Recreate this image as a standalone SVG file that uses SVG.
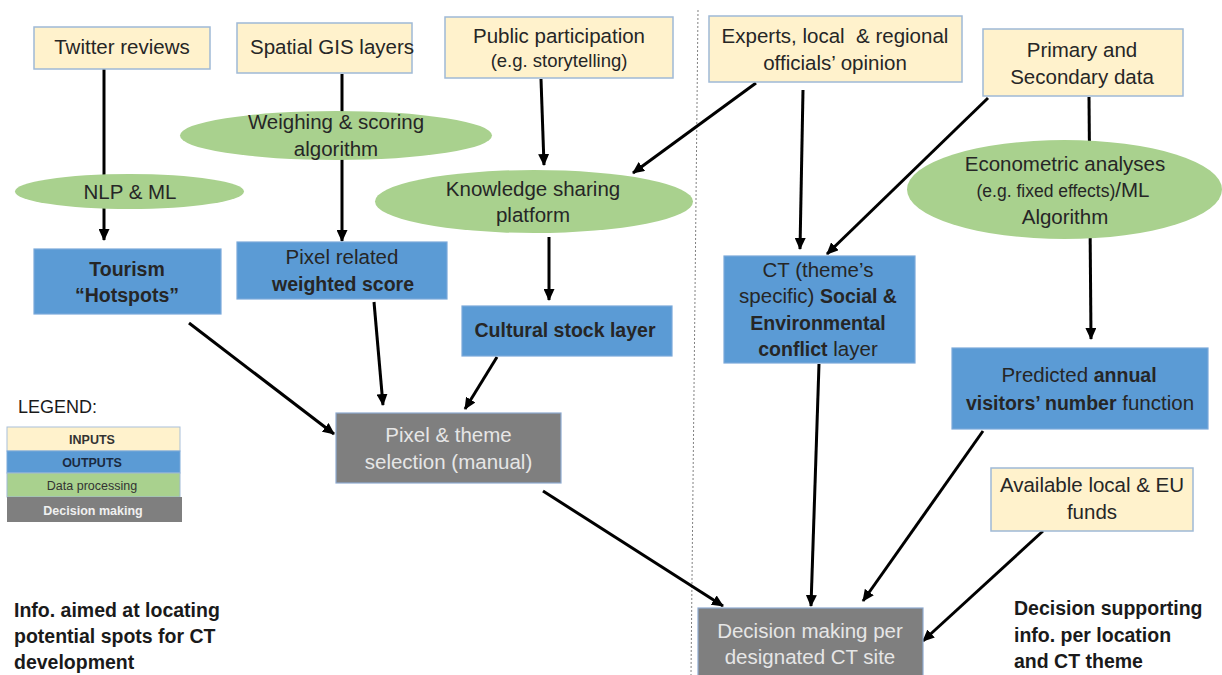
<svg xmlns="http://www.w3.org/2000/svg" width="1222" height="675" viewBox="0 0 1222 675">
<style>
.t{font-family:"Liberation Sans",Arial,sans-serif;font-size:20.5px;fill:#262626;text-anchor:middle;white-space:pre}
.b{font-weight:bold;font-size:19.5px}
.bt{font-weight:bold}
.s{font-size:18.5px}
.w{fill:#e6e6e6}
.in{fill:#fff2cc;stroke:#9fb9d6;stroke-width:1.5}
.out{fill:#5b9bd5;stroke:#7ba9da;stroke-width:1.2}
.dp{fill:#a9d18e}
.dm{fill:#7f7f7f;stroke:#8eaad0;stroke-width:1.2}
.c{stroke:#000;stroke-width:3;fill:none;marker-end:url(#ah)}
.lg{font-family:"Liberation Sans",Arial,sans-serif;font-size:12.5px;text-anchor:middle}
.note{font-family:"Liberation Sans",Arial,sans-serif;font-size:19.5px;font-weight:bold;fill:#1a1a1a}
</style>
<defs>
<marker id="ah" markerUnits="userSpaceOnUse" markerWidth="12" markerHeight="11" viewBox="0 0 12 11" refX="11" refY="5.5" orient="auto">
<path d="M0,0 L12,5.5 L0,11 z" fill="#000"/>
</marker>
</defs>
<rect width="1222" height="675" fill="#fff"/>
<line x1="698" y1="10" x2="691" y2="675" stroke="#808080" stroke-width="1" stroke-dasharray="2 2"/>
<g id="connectors">
<line class="c" x1="104" y1="66" x2="104" y2="240"/>
<line class="c" x1="342" y1="74" x2="342" y2="241"/>
<line class="c" x1="541" y1="79" x2="544" y2="165"/>
<line class="c" x1="756" y1="83" x2="633" y2="173"/>
<line class="c" x1="803" y1="90" x2="800" y2="249"/>
<line class="c" x1="988" y1="98" x2="827" y2="254"/>
<line class="c" x1="1089" y1="97" x2="1091" y2="339"/>
<line class="c" x1="549" y1="237" x2="549" y2="300"/>
<line class="c" x1="189" y1="323" x2="334" y2="434"/>
<line class="c" x1="374" y1="302" x2="383" y2="405"/>
<line class="c" x1="497" y1="357" x2="465" y2="409"/>
<line class="c" x1="543" y1="491" x2="723" y2="606"/>
<line class="c" x1="819" y1="364" x2="811" y2="606"/>
<line class="c" x1="983" y1="431" x2="863" y2="601"/>
<line class="c" x1="1043" y1="531" x2="923" y2="641"/>
</g>
<g id="twitter"><rect class="in" x="34" y="27" width="176" height="42"/><text class="t" x="122" y="54">Twitter reviews</text></g>
<g id="gis"><rect class="in" x="237" y="23" width="175" height="50"/><text class="t" x="332" y="54">Spatial GIS layers</text></g>
<g id="public"><rect class="in" x="445" y="17" width="228" height="61"/><text class="t" x="559" y="43">Public participation</text><text class="t s" x="559" y="67">(e.g. storytelling)</text></g>
<g id="experts"><rect class="in" x="709" y="16" width="253" height="66"/><text class="t" x="835" y="43">Experts, local  &amp; regional</text><text class="t" x="835" y="70">officials’ opinion</text></g>
<g id="primary"><rect class="in" x="983" y="29" width="200" height="67"/><text class="t" x="1082" y="57">Primary and</text><text class="t" x="1082" y="84">Secondary data</text></g>
<g id="weighing"><ellipse class="dp" cx="336" cy="135.5" rx="156" ry="24.5"/><text class="t" x="336" y="129">Weighing &amp; scoring</text><text class="t" x="336" y="156">algorithm</text></g>
<g id="nlp"><ellipse class="dp" cx="129.5" cy="191.5" rx="114.5" ry="17.5"/><text class="t" x="130" y="199">NLP &amp; ML</text></g>
<g id="knowledge"><ellipse class="dp" cx="534" cy="201.5" rx="159" ry="31.5"/><text class="t" x="533" y="196">Knowledge sharing</text><text class="t" x="533" y="222">platform</text></g>
<g id="econometric"><ellipse class="dp" cx="1064.5" cy="189.5" rx="157.5" ry="49.5"/><text class="t" x="1065" y="171">Econometric analyses</text><text class="t" x="1063" y="197"><tspan style="font-size:17.5px">(e.g. fixed effects)</tspan>/ML</text><text class="t" x="1065" y="224">Algorithm</text></g>
<g id="tourism"><rect class="out" x="34" y="249" width="187" height="65"/><text class="t b" x="127" y="276">Tourism</text><text class="t b" x="127" y="302">“Hotspots”</text></g>
<g id="pixelscore"><rect class="out" x="237" y="242" width="210" height="57"/><text class="t" x="342" y="264">Pixel related</text><text class="t b" x="343" y="291">weighted score</text></g>
<g id="cultural"><rect class="out" x="462" y="306" width="210" height="50"/><text class="t b" x="565" y="337">Cultural stock layer</text></g>
<g id="ct"><rect class="out" x="724" y="256" width="191" height="107"/><text class="t" x="818" y="277">CT (theme’s</text><text class="t" x="818" y="303">specific) <tspan class="bt" style="font-size:19.5px">Social &amp;</tspan></text><text class="t b" x="818" y="330">Environmental</text><text class="t" x="818" y="356"><tspan class="bt" style="font-size:19.5px">conflict</tspan> layer</text></g>
<g id="predicted"><rect class="out" x="952" y="348" width="256" height="81"/><text class="t" x="1079" y="382">Predicted <tspan class="bt" style="font-size:19.5px">annual</tspan></text><text class="t" x="1080" y="410"><tspan class="bt" style="font-size:19.5px">visitors’ number</tspan> function</text></g>
<g id="selection"><rect class="dm" x="336" y="413" width="225" height="70"/><text class="t w" x="448.5" y="442">Pixel &amp; theme</text><text class="t w" x="448.5" y="469">selection (manual)</text></g>
<g id="funds"><rect class="in" x="991" y="468" width="202" height="63"/><text class="t" x="1092" y="492">Available local &amp; EU</text><text class="t" x="1092" y="519">funds</text></g>
<g id="decision"><rect class="dm" x="698" y="608" width="225" height="70"/><text class="t w" x="810" y="638">Decision making per</text><text class="t w" x="810" y="664">designated CT site</text></g>
<g id="legend">
<text x="18" y="413" style="font-family:'Liberation Sans',Arial,sans-serif;font-size:18px;fill:#1a1a1a">LEGEND:</text>
<rect x="7" y="427" width="173" height="24" fill="#fff2cc" stroke="#a9c0d9" stroke-width="1"/>
<rect x="7" y="451" width="173" height="22" fill="#5b9bd5" stroke="#7ba9da" stroke-width="1"/>
<rect x="7" y="473" width="173" height="24" fill="#a9d18e" stroke="#9fb9d6" stroke-width="1"/>
<rect x="7" y="497" width="175" height="25" fill="#7f7f7f"/>
<text class="lg" x="92" y="444" style="font-weight:bold;fill:#333">INPUTS</text>
<text class="lg" x="92" y="467" style="font-weight:bold;fill:#1a2a40">OUTPUTS</text>
<text class="lg" x="92" y="490" style="fill:#333">Data processing</text>
<text class="lg" x="93" y="515" style="font-weight:bold;fill:#f0f0f0">Decision making</text>
</g>
<g id="note-left"><text class="note" x="14" y="617">Info. aimed at locating</text><text class="note" x="14" y="643">potential spots for CT</text><text class="note" x="14" y="669">development</text></g>
<g id="note-right"><text class="note" x="1014" y="615">Decision supporting</text><text class="note" x="1014" y="642">info. per location</text><text class="note" x="1014" y="668">and CT theme</text></g>
</svg>
